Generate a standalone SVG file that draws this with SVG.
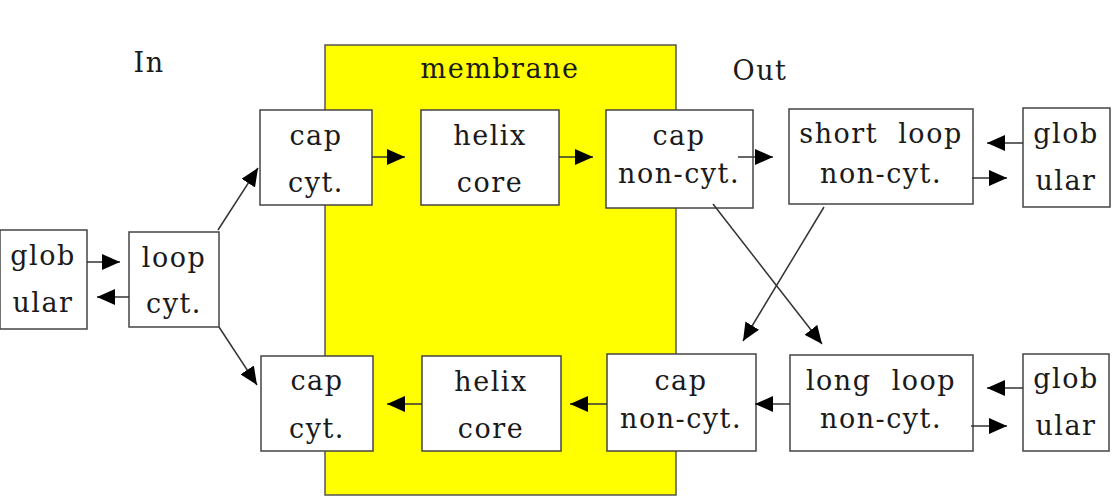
<svg xmlns="http://www.w3.org/2000/svg" width="1115" height="497" viewBox="0 0 1115 497">
<style>
.box{fill:#fff;stroke:#444;stroke-width:1.5}
.t{font-family:"DejaVu Serif","Liberation Serif",serif;font-size:27px;fill:#1a1a1a;text-anchor:middle;letter-spacing:1.5px;white-space:pre}
.c{stroke:#333;stroke-width:1.5;fill:none;marker-end:url(#ah)}
</style>
<defs>
<marker id="ah" markerUnits="userSpaceOnUse" markerWidth="18" markerHeight="16" refX="18" refY="8" orient="auto">
<path d="M0,0 L18,8 L0,16 z" fill="#000"/>
</marker>
</defs>
<g id="membrane">
<rect x="325" y="45" width="351" height="450" fill="#ffff00" stroke="#555" stroke-width="1.5"/>
<text class="t" x="500" y="78">membrane</text>
</g>
<g id="labels">
<text class="t" x="149" y="72">In</text>
<text class="t" x="760" y="80">Out</text>
</g>
<g id="glob-left"><rect class="box" x="0" y="230" width="87" height="99"/><text class="t" x="43" y="265">glob</text><text class="t" x="43" y="312">ular</text></g>
<g id="loop-cyt"><rect class="box" x="129" y="232" width="90" height="95"/><text class="t" x="174" y="267">loop</text><text class="t" x="174" y="313">cyt.</text></g>
<g id="cap-cyt-top"><rect class="box" x="260" y="110" width="112" height="95"/><text class="t" x="316" y="145">cap</text><text class="t" x="316" y="192">cyt.</text></g>
<g id="helix-top"><rect class="box" x="421" y="110" width="138" height="95"/><text class="t" x="490" y="145">helix</text><text class="t" x="490" y="192">core</text></g>
<g id="cap-noncyt-top"><rect class="box" x="606" y="110" width="147" height="98"/><text class="t" x="679" y="145">cap</text><text class="t" x="679" y="183">non-cyt.</text></g>
<g id="short-loop"><rect class="box" x="789" y="109" width="184" height="95"/><text class="t" x="881" y="143" xml:space="preserve">short  loop</text><text class="t" x="881" y="183">non-cyt.</text></g>
<g id="glob-top-right"><rect class="box" x="1023" y="108" width="87" height="99"/><text class="t" x="1066" y="143">glob</text><text class="t" x="1066" y="190">ular</text></g>
<g id="cap-cyt-bottom"><rect class="box" x="261" y="356" width="112" height="95"/><text class="t" x="317" y="390">cap</text><text class="t" x="317" y="438">cyt.</text></g>
<g id="helix-bottom"><rect class="box" x="422" y="356" width="139" height="95"/><text class="t" x="491" y="391">helix</text><text class="t" x="491" y="438">core</text></g>
<g id="cap-noncyt-bottom"><rect class="box" x="607" y="354" width="149" height="97"/><text class="t" x="681" y="390">cap</text><text class="t" x="681" y="428">non-cyt.</text></g>
<g id="long-loop"><rect class="box" x="790" y="355" width="183" height="96"/><text class="t" x="881" y="390" xml:space="preserve">long  loop</text><text class="t" x="881" y="428">non-cyt.</text></g>
<g id="glob-bottom-right"><rect class="box" x="1023" y="354" width="86" height="97"/><text class="t" x="1066" y="388">glob</text><text class="t" x="1066" y="435">ular</text></g>
<g id="connectors">
<line class="c" x1="87" y1="262" x2="120" y2="262"/>
<line class="c" x1="129" y1="297" x2="97" y2="297"/>
<line class="c" x1="218" y1="230" x2="258" y2="168"/>
<line class="c" x1="219" y1="327" x2="257" y2="385"/>
<line class="c" x1="372" y1="157" x2="405" y2="157"/>
<line class="c" x1="559" y1="157" x2="593" y2="157"/>
<line class="c" x1="738" y1="157" x2="773" y2="157"/>
<line class="c" x1="1023" y1="143" x2="987" y2="143"/>
<line class="c" x1="972" y1="178" x2="1007" y2="178"/>
<line class="c" x1="713" y1="204" x2="822" y2="344"/>
<line class="c" x1="824" y1="207" x2="743" y2="341"/>
<line class="c" x1="790" y1="404" x2="755" y2="404"/>
<line class="c" x1="1023" y1="388" x2="987" y2="388"/>
<line class="c" x1="971" y1="426" x2="1007" y2="426"/>
<line class="c" x1="422" y1="404" x2="387" y2="404"/>
<line class="c" x1="607" y1="404" x2="570" y2="404"/>
</g>
</svg>
